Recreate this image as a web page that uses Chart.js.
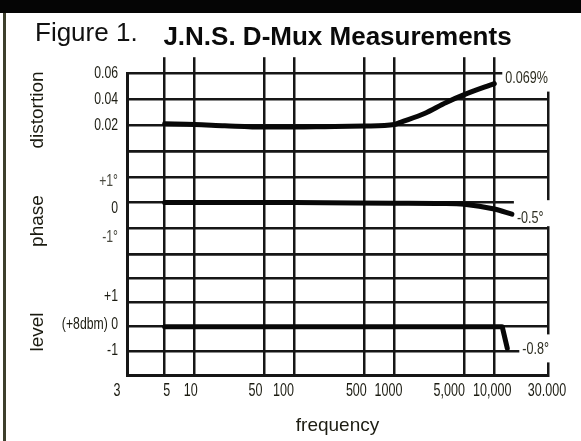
<!DOCTYPE html>
<html>
<head>
<meta charset="utf-8">
<title>J.N.S. D-Mux Measurements</title>
<script src="https://cdn.jsdelivr.net/npm/chart.js@4"></script>
<style>
  html, body { margin:0; padding:0; background:#fff; }
  #wrap { position:relative; width:581px; height:441px; overflow:hidden; background:#fff; }
  canvas { position:absolute; left:0; top:0; }
  #topbar { position:absolute; left:0; top:0; width:581px; height:13px; background:#050505; }
  #leftbar { position:absolute; left:3px; top:13px; width:3px; height:428px; background:#3d3f2c; }
  #fig { position:absolute; left:35px; top:19px; font:26px 'Liberation Sans', Arial, sans-serif; line-height:26px; color:#111; }
  .group { position:absolute; left:36px; font:19px 'Liberation Sans', Arial, sans-serif; line-height:1; color:#1a1a10;
           transform:translate(-50%,-50%) rotate(-90deg); white-space:nowrap; }
</style>
</head>
<body>
<div id="wrap">
  <canvas id="chart" width="581" height="441"></canvas>
  <div id="topbar"></div>
  <div id="leftbar"></div>
  <div id="fig">Figure 1.</div>
  <div class="group" style="top:110px">distortion</div>
  <div class="group" style="top:221px">phase</div>
  <div class="group" style="top:332px">level</div>
</div>
<script>
// frequency axis (log) -- the printed grid lines
const freqTicks = [5, 10, 50, 100, 500, 1000, 5000, 10000];
const freqTickLabels = ['5', '10', '50', '100', '500', '1000', '5,000', '10,000'];
const freqEndLabels = ['3', '30.000'];     // printed at the two frame edges
const FREQ_MIN = 2.1, FREQ_MAX = 34500;    // where those edges land on a true log axis

// distortion (%)
const distFreq = [5, 10, 20, 50, 100, 200, 500, 1000, 1150, 2000, 3300, 5000, 10000];
const distVals = [0.021, 0.0205, 0.0195, 0.0185, 0.0185, 0.0188, 0.0193, 0.0205, 0.0222, 0.029, 0.0375, 0.0435, 0.052];
const distTicks = [0, 0.02, 0.04, 0.06];
const distTickLabels = ['', '0.02', '0.04', '0.06'];

// phase (degrees)
const phaseFreq = [5, 10, 100, 1000, 3000, 5000, 10000, 15000];
const phaseVals = [0, 0, 0, -0.02, -0.03, -0.06, -0.25, -0.45];
const phaseTicks = [-2, -1, 0, 1, 2];
const phaseTickLabels = ['', '-1°', '0', '+1°', ''];

// level (dB, 0 = +8 dBm)
const levelFreq = [5, 10, 100, 1000, 10000, 12000, 13500];
const levelVals = [0, 0, 0, 0, 0, 0, -0.9];
const levelTicks = [-2, -1, 0, 1, 2, 3];
const levelTickLabels = ['', '-1', '(+8dbm) 0', '+1', '', ''];

// notes written at the end of each trace
const endNotes = ['0.069%', '-0.5°', '-0.8°'];

const SANS = "'Liberation Sans', Arial, sans-serif";
const INK = '#161616';
const TEXT = '#1c1c12';

const pts = (xs, ys) => xs.map((x, i) => ({x: x, y: ys[i]}));

const xTickValues = [FREQ_MIN].concat(freqTicks, [FREQ_MAX]);
const xTickLabels = [freqEndLabels[0]].concat(freqTickLabels, [freqEndLabels[1]]);

function yAxis(ticks, min, max, weight, stackWeight){
  return {
    type: 'linear', position: 'left', stack: 'rows', stackWeight: stackWeight, weight: weight,
    min: min, max: max,
    afterBuildTicks: s => { s.ticks = ticks.map(v => ({value: v})); },
    afterFit: s => { s.width = 127; },
    ticks: {display: false},
    grid: {color: INK, lineWidth: 2.5, drawTicks: false},
    border: {color: INK, width: 3}
  };
}

// the print uses a condensed face; squeeze Liberation Sans horizontally
function narrowText(ctx, text, x, y, squeeze){
  ctx.save();
  ctx.translate(x, y);
  ctx.scale(squeeze, 1);
  ctx.fillText(text, 0, 0);
  ctx.restore();
}

// tick labels, placed from the scales, with the small hand-set nudges of the print
const tickTextPlugin = {
  id: 'tickText',
  afterDraw(chart, args, opts){
    const ctx = chart.ctx, area = chart.chartArea;
    ctx.save();
    ctx.fillStyle = TEXT;

    const sx = chart.scales.x;
    ctx.font = '19px ' + SANS;
    ctx.textAlign = 'center';
    ctx.textBaseline = 'alphabetic';
    xTickValues.forEach((v, i) => {
      narrowText(ctx, xTickLabels[i], sx.getPixelForValue(v) + opts.xNudge[i], area.bottom + 21, 0.66);
    });

    ctx.font = '17px ' + SANS;
    ctx.textAlign = 'right';
    ctx.textBaseline = 'middle';
    const rows = [
      ['yD', distTicks, distTickLabels, opts.dNudge],
      ['yP', phaseTicks, phaseTickLabels, opts.pNudge],
      ['yL', levelTicks, levelTickLabels, opts.lNudge]
    ];
    rows.forEach(([id, vals, labels, nudge]) => {
      const s = chart.scales[id];
      vals.forEach((v, i) => {
        if (!labels[i]) return;
        ctx.fillStyle = labels[i].includes('°') ? '#4a4a40' : TEXT;
        narrowText(ctx, labels[i], area.left - 9, s.getPixelForValue(v) + nudge[i], 0.72);
      });
    });
    ctx.restore();
  }
};

// short white patch behind each end note, then the text itself
const endNotePlugin = {
  id: 'endNotes',
  beforeDatasetsDraw(chart, args, opts){
    const ctx = chart.ctx;
    ctx.save();
    ctx.fillStyle = '#fff';
    opts.spots.forEach((s, i) => {
      const meta = chart.getDatasetMeta(i);
      const p = meta.data[meta.data.length - 1];
      const x = p.x + s.dx, y = p.y + s.dy;
      ctx.fillRect(x - 3, y - s.up, chart.width - x + 3, s.up + s.down);
    });
    ctx.restore();
  },
  afterDatasetsDraw(chart, args, opts){
    const ctx = chart.ctx;
    ctx.save();
    ctx.fillStyle = '#2e2e22';
    ctx.font = '17px ' + SANS;
    ctx.textAlign = 'left';
    ctx.textBaseline = 'middle';
    opts.spots.forEach((s, i) => {
      const meta = chart.getDatasetMeta(i);
      const p = meta.data[meta.data.length - 1];
      narrowText(ctx, endNotes[i], p.x + s.dx, p.y + s.dy, 0.74);
    });
    ctx.restore();
  }
};

const lineStyle = {borderColor: '#080808', borderWidth: 5, pointRadius: 0, borderCapStyle: 'round', borderJoinStyle: 'round', fill: false};

new Chart(document.getElementById('chart'), {
  type: 'line',
  data: {
    datasets: [
      Object.assign({label: 'distortion', data: pts(distFreq, distVals), yAxisID: 'yD', cubicInterpolationMode: 'monotone'}, lineStyle),
      Object.assign({label: 'phase', data: pts(phaseFreq, phaseVals), yAxisID: 'yP', cubicInterpolationMode: 'monotone'}, lineStyle),
      Object.assign({label: 'level', data: pts(levelFreq, levelVals), yAxisID: 'yL', tension: 0}, lineStyle)
    ]
  },
  options: {
    responsive: false,
    animation: false,
    devicePixelRatio: 1,
    layout: {padding: {left: 0, right: 33, top: 0, bottom: 0}},
    plugins: {
      legend: {display: false},
      tooltip: {enabled: false},
      title: {
        display: true, text: 'J.N.S. D-Mux Measurements', fullSize: false,
        color: '#0a0a0a', font: {family: SANS, size: 26, weight: 'bold'},
        padding: {top: 22, bottom: 4}
      },
      endNotes: {
        spots: [
          {dx: 11, dy: -5, up: 18, down: 13},
          {dx: 5, dy: 4, up: 18, down: 8},
          {dx: 15, dy: 1, up: 15, down: 13}
        ]
      },
      tickText: {
        xNudge: [-10, 2, -4, -9, -11, -8, -6, -15, -2, -1],
        dNudge: [0, 0, 0, 0],
        pNudge: [0, 9, 6, 4, 0],
        lNudge: [0, -1, -2, -6, 0, 0]
      }
    },
    scales: {
      x: {
        type: 'logarithmic', position: 'bottom', min: FREQ_MIN, max: FREQ_MAX,
        afterBuildTicks: s => { s.ticks = xTickValues.map(v => ({value: v})); },
        afterFit: s => { s.height = 66; },
        ticks: {display: false},
        grid: {color: INK, lineWidth: 2.5, drawTicks: false},
        border: {color: INK, width: 3},
        title: {display: true, text: 'frequency', color: TEXT, font: {family: SANS, size: 19}, padding: {top: 0, bottom: 4}}
      },
      // stubs of the vertical lines poking above the frame
      xTop: {
        type: 'logarithmic', position: 'top', min: FREQ_MIN, max: FREQ_MAX,
        afterBuildTicks: s => { s.ticks = freqTicks.map(v => ({value: v})); },
        afterFit: s => { s.height = 16; },
        ticks: {display: false},
        grid: {color: INK, lineWidth: 2.5, drawOnChartArea: false, drawTicks: true, tickLength: 16},
        border: {display: false}
      },
      yD: yAxis(distTicks, 0, 0.06, 3, 78),
      yP: yAxis(phaseTicks, -2, 2, 2, 103),
      yL: yAxis(levelTicks, -2, 3, 1, 121)
    }
  },
  plugins: [endNotePlugin, tickTextPlugin]
});
</script>
</body>
</html>
